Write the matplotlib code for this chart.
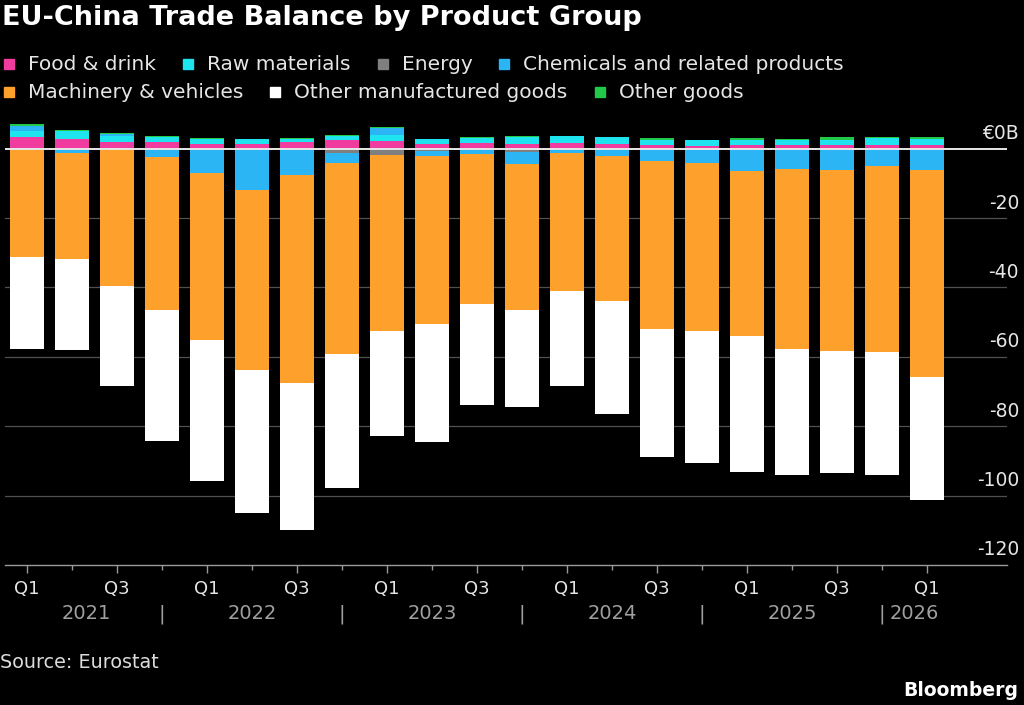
import matplotlib
matplotlib.use('Agg')
import matplotlib.pyplot as plt
from matplotlib.patches import Rectangle
import numpy as np

# quarters 2021 Q1 .. 2026 Q1, values in EUR billion
quarters = ['Q1', 'Q2', 'Q3', 'Q4'] * 5 + ['Q1']
years = ['2021', '2022', '2023', '2024', '2025', '2026']

food = [3.4, 2.9, 2.0, 1.8, 1.4, 1.5, 1.9, 2.4, 2.1, 1.4, 1.6,
        1.4, 1.7, 1.25, 1.2, 0.8, 1.0, 1.0, 1.0, 1.0, 1.0]
raw = [1.7, 2.1, 1.8, 1.5, 1.3, 1.2, 1.0, 1.35, 1.9, 1.4, 1.5,
       1.9, 1.9, 2.0, 1.4, 1.6, 1.4, 1.4, 1.5, 2.0, 1.8]
energy = [0, 0, 0, 0, 0, 0, 0, -1.25, -1.7, -0.6, -0.4,
          -1.0, 0, 0, 0, 0, 0, 0, 0, 0, 0]
chemicals = [1.5, -1.1, 0.5, -2.4, -7.1, -12.0, -7.5, -2.85, 1.9, -1.4, -1.0,
             -3.5, -1.25, -2.2, -3.4, -4.2, -6.3, -5.9, -6.1, -5.1, -6.1]
machinery = [-31.2, -30.6, -39.7, -44.2, -47.9, -51.8, -60.1, -55.0, -50.9, -48.5, -43.4,
             -42.1, -39.65, -41.6, -48.6, -48.4, -47.8, -51.8, -52.1, -53.6, -59.6]
other_manuf = [-26.4, -26.2, -28.6, -37.8, -40.9, -41.1, -42.3, -38.8, -30.2, -34.0, -29.0,
               -27.9, -27.4, -32.7, -36.9, -38.0, -39.1, -36.4, -35.3, -35.4, -35.5]
other_goods = [0.4, 0.4, 0.3, 0.4, 0.3, 0.2, 0.1, 0.1, 0.3, 0.1, 0.2,
               0.4, 0.1, 0.1, 0.4, 0.1, 0.7, 0.5, 0.8, 0.5, 0.6]

series = [
    ('Food & drink', food, '#f03c9e'),
    ('Raw materials', raw, '#1ee4f0'),
    ('Energy', energy, '#7f7f7f'),
    ('Chemicals and related products', chemicals, '#2bb5f5'),
    ('Machinery & vehicles', machinery, '#fea02c'),
    ('Other manufactured goods', other_manuf, '#ffffff'),
    ('Other goods', other_goods, '#22c84a'),
]
yticks = [0, -20, -40, -60, -80, -100, -120]

plt.rcParams['font.family'] = ['DejaVu Sans']
fig = plt.figure(figsize=(10.24, 7.05), dpi=100, facecolor='black')
ax = fig.add_axes([0.0049, 0.1986, 0.9785, 0.6298])
ax.set_facecolor('black')

x = np.arange(len(quarters))
pos = np.zeros(len(x))
neg = np.zeros(len(x))
for name, vals, col in series:
    v = np.array(vals, dtype=float)
    bottoms = np.where(v >= 0, pos, neg)
    ax.bar(x, v, bottom=bottoms, width=0.75, color=col, linewidth=0, zorder=3)
    pos += np.where(v >= 0, v, 0)
    neg += np.where(v < 0, v, 0)

ax.set_xlim(-0.49, 21.78)
ax.set_ylim(-120, 8)

for t in yticks[1:-1]:
    ax.axhline(t, color='#505050', lw=0.9, zorder=1)
ax.axhline(0, color='#e8e8e8', lw=1.4, zorder=4)
for t in yticks:
    lab = '€0B' if t == 0 else str(t)
    ax.annotate(lab, xy=(1.012, t), xycoords=('axes fraction', 'data'),
                xytext=(0, 4), textcoords='offset points',
                ha='right', va='bottom', color='#e6e6e6', fontsize=13.5,
                annotation_clip=False)

for s in ['top', 'right', 'left']:
    ax.spines[s].set_visible(False)
ax.spines['bottom'].set_color('#9a9a9a')
ax.spines['bottom'].set_linewidth(1.0)
ax.set_yticks([])

major = [i for i, q in enumerate(quarters) if q in ('Q1', 'Q3')]
minor = [i for i, q in enumerate(quarters) if q not in ('Q1', 'Q3')]
ax.set_xticks(major)
ax.set_xticklabels([quarters[i] for i in major])
ax.set_xticks(minor, minor=True)
ax.tick_params(axis='x', which='major', length=6, width=1, color='#9a9a9a',
               labelcolor='#e6e6e6', labelsize=13, pad=5)
ax.tick_params(axis='x', which='minor', length=3.5, width=1, color='#9a9a9a')

# year labels below quarter labels
trans = ax.get_xaxis_transform()
year_y = -0.11
centers = [1.31, 5, 9, 13, 17]
for yr, c in zip(years[:-1], centers):
    ax.text(c, year_y, yr, transform=trans, ha='center', va='center',
            color='#a0a0a0', fontsize=14)
for sep in [3, 7, 11, 15, 19]:
    ax.text(sep, year_y, '|', transform=trans, ha='center', va='center',
            color='#a0a0a0', fontsize=14)
ax.text(19.17, year_y, years[-1], transform=trans, ha='left', va='center',
        color='#a0a0a0', fontsize=14)

# title
fig.text(0.002, 0.974, 'EU-China Trade Balance by Product Group', ha='left', va='center',
         color='white', fontsize=19.5, fontweight='bold')

# legend, laid out by hand in two rows
fig.canvas.draw()
renderer = fig.canvas.get_renderer()
W, H = fig.bbox.width, fig.bbox.height
rows = [[0, 1, 2, 3], [4, 5, 6]]
row_y = [64, 92]
for r, idxs in enumerate(rows):
    px = 4
    for i in idxs:
        name, _, col = series[i]
        yc = 1 - row_y[r] / H
        fig.patches.append(Rectangle((px / W, yc - 5 / H), 10 / W, 10 / H,
                                     transform=fig.transFigure, color=col, figure=fig))
        t = fig.text((px + 24) / W, yc, name, ha='left', va='center',
                     color='#e6e6e6', fontsize=14.5)
        bb = t.get_window_extent(renderer)
        px = bb.x1 + 27

fig.text(0.0, 1 - 663 / 705, 'Source: Eurostat', ha='left', va='center',
         color='#dcdcdc', fontsize=13.8)
fig.text(0.994, 1 - 690 / 705, 'Bloomberg', ha='right', va='center',
         color='white', fontsize=13.5, fontweight='bold')

fig.savefig('out.png', dpi=100, facecolor='black')
